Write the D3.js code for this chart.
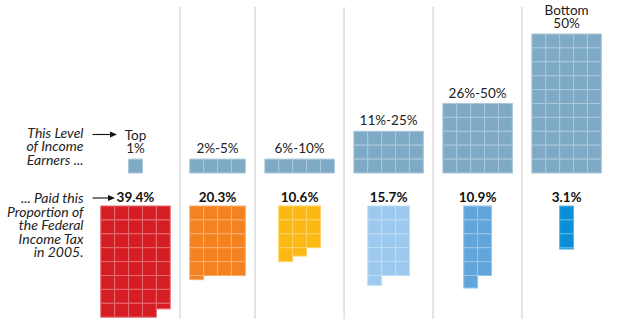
<!DOCTYPE html>
<html>
<head>
<meta charset="utf-8">
<script src="https://cdn.jsdelivr.net/npm/d3@7"></script>
<style>
  html, body { margin: 0; padding: 0; background: #fff; }
  svg { display: block; font-family: Lato, "Open Sans", sans-serif; }
</style>
</head>
<body>
<div id="chart"></div>
<script>
// income groups and what share of federal income tax they paid (2005)
const groups = ['Top 1%', '2%-5%', '6%-10%', '11%-25%', '26%-50%', 'Bottom 50%'];
const groupLabels = [['Top', '1%'], ['2%-5%'], ['6%-10%'], ['11%-25%'], ['26%-50%'], ['Bottom', '50%']];
const populationShare = [1, 4, 5, 15, 25, 50];
const taxShare = [39.4, 20.3, 10.6, 15.7, 10.9, 3.1];
const populationCols = [1, 4, 5, 5, 5, 5];
const taxCols = [5, 4, 3, 3, 2, 1];
const taxColors = ['#d71d24', '#f58220', '#fdb913', '#9dc9ee', '#62a5dc', '#0a8fd6'];
const populationColor = '#7eaac6';
const incomeText = ['This Level', 'of Income', 'Earners ...'];
const taxText = ['... Paid this', 'Proportion of', 'the Federal', 'Income Tax', 'in 2005.'];

const width = 640;
const height = 330;
const cell = 13.9;
const colPad = 19.5;
const startX = 91;
const popBase = 173;
const taxTop = 206;

const svg = d3.select('#chart')
  .append('svg')
  .attr('width', width)
  .attr('height', height);

// one unit square = 1 percentage point
const unit = d3.scaleLinear().domain([0, 1]).range([0, cell]);

// each column is as wide as its widest grid
const colWidths = groups.map((g, i) => unit(Math.max(populationCols[i], taxCols[i])) + colPad);
const edges = [startX, ...d3.cumsum(colWidths).map(w => startX + w)];
const xCenter = d3.scaleOrdinal()
  .domain(groups)
  .range(groups.map((g, i) => (edges[i] + edges[i + 1]) / 2));

// dividers between columns
svg.selectAll('line.divider')
  .data(edges.slice(1, -1))
  .enter()
  .append('line')
  .attr('class', 'divider')
  .attr('x1', d => d).attr('x2', d => d)
  .attr('y1', 7).attr('y2', 319)
  .attr('stroke', '#dcdcdc')
  .attr('stroke-width', 1.5);

function cellsFor(value, cols) {
  const full = Math.floor(value + 1e-9);
  const frac = value - full;
  const out = d3.range(full).map(i => ({ row: Math.floor(i / cols), col: i % cols, h: 1 }));
  if (frac > 0.01) {
    out.push({ row: Math.floor(full / cols), col: full % cols, h: frac });
  }
  return out;
}

function drawGrid(g, cells, left, top, color) {
  const stroke = d3.interpolateRgb(color, '#ffffff')(0.35);
  g.selectAll('rect')
    .data(cells)
    .enter()
    .append('rect')
    .attr('x', d => left + unit(d.col))
    .attr('y', d => top + unit(d.row))
    .attr('width', unit(1))
    .attr('height', d => unit(d.h))
    .attr('fill', color)
    .attr('stroke', stroke)
    .attr('stroke-width', 1);
}

groups.forEach((name, i) => {
  const cx = xCenter(name);

  // population grid, bottom aligned
  const popRows = Math.ceil(populationShare[i] / populationCols[i]);
  const popTop = popBase - unit(popRows);
  drawGrid(svg.append('g'), cellsFor(populationShare[i], populationCols[i]),
    cx - unit(populationCols[i]) / 2, popTop, populationColor);

  const lines = groupLabels[i];
  svg.append('g')
    .selectAll('text')
    .data(lines)
    .enter()
    .append('text')
    .attr('x', cx)
    .attr('y', (d, j) => popTop - 6 - (lines.length - 1 - j) * 13.5)
    .attr('text-anchor', 'middle')
    .attr('font-size', 13.5)
    .attr('fill', '#222')
    .text(d => d);

  // tax grid, top aligned
  drawGrid(svg.append('g'), cellsFor(taxShare[i], taxCols[i]),
    cx - unit(taxCols[i]) / 2, taxTop, taxColors[i]);

  svg.append('text')
    .attr('x', cx)
    .attr('y', taxTop - 4)
    .attr('text-anchor', 'middle')
    .attr('font-size', 13.5)
    .attr('font-weight', 'bold')
    .attr('fill', '#111')
    .text(d3.format('.1f')(taxShare[i]) + '%');
});

// left-hand annotations
function sideText(lines, baseY) {
  svg.append('g')
    .selectAll('text')
    .data(lines)
    .enter()
    .append('text')
    .attr('x', 83.5)
    .attr('y', (d, j) => baseY + j * 13.6)
    .attr('text-anchor', 'end')
    .attr('font-size', 14)
    .attr('font-style', 'italic')
    .attr('fill', '#222')
    .text(d => d);
}
sideText(incomeText, 137.5);
sideText(taxText, 203);

function arrow(y, x2) {
  svg.append('line')
    .attr('x1', 92.5).attr('x2', x2 - 5)
    .attr('y1', y).attr('y2', y)
    .attr('stroke', '#111')
    .attr('stroke-width', 1.1);
  svg.append('path')
    .attr('d', `M${x2},${y} L${x2 - 7},${y - 3} L${x2 - 7},${y + 3} Z`)
    .attr('fill', '#111');
}
arrow(134.5, 117);
arrow(198, 115);
</script>
</body>
</html>
